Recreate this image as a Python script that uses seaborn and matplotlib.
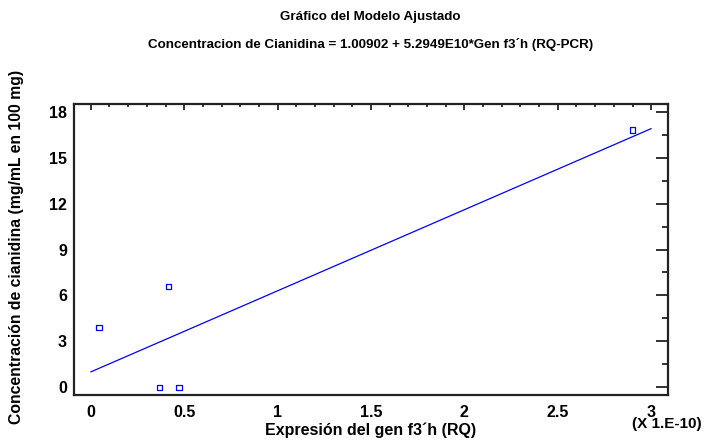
import numpy as np
import pandas as pd
import matplotlib
matplotlib.use('Agg')
import matplotlib.pyplot as plt
import seaborn as sns
from matplotlib.ticker import MultipleLocator, FuncFormatter

# observed values (x in RQ units, shown as X 1.E-10)
gen_f3h = [0.044e-10, 0.367e-10, 0.415e-10, 0.472e-10, 2.90e-10]
cianidina = [3.9, 0.0, 6.6, 0.0, 16.8]

# fitted model from the title
intercept = 1.00902
slope = 5.2949e10
fit_range = [0.0, 3.0e-10]

scale = 1e10
obs = pd.DataFrame({'x': np.array(gen_f3h) * scale, 'y': cianidina})
fit_x = np.array(fit_range)
fit = pd.DataFrame({'x': fit_x * scale, 'y': intercept + slope * fit_x})

sns.set_style('white')
plt.rcParams['font.family'] = ['Liberation Sans', 'DejaVu Sans']
plt.rcParams['font.weight'] = 'bold'
plt.rcParams['text.color'] = 'black'
plt.rcParams['xtick.labelcolor'] = 'black'
plt.rcParams['ytick.labelcolor'] = 'black'
plt.rcParams['axes.labelcolor'] = 'black'

fig = plt.figure(figsize=(7.07, 4.40), dpi=100)
ax = fig.add_axes([74 / 707, 45 / 440, 594 / 707, 291 / 440])

sns.lineplot(data=fit, x='x', y='y', ax=ax, color='#0000ff', linewidth=0.9)
sns.scatterplot(data=obs, x='x', y='y', ax=ax, marker='s', s=14,
                facecolor='none', edgecolor='#0000ff', linewidth=0.9)

ax.set_xlim(-0.09, 3.09)
ax.set_ylim(-0.5, 18.5)
ax.xaxis.set_major_locator(MultipleLocator(0.5))
ax.xaxis.set_minor_locator(MultipleLocator(0.1))
ax.yaxis.set_major_locator(MultipleLocator(3))
ax.yaxis.set_minor_locator(MultipleLocator(1.5))
ax.xaxis.set_major_formatter(FuncFormatter(lambda v, p: f'{v:g}'))
ax.tick_params(which='both', direction='in', top=True, right=True,
               color='#222222', labelcolor='black', labelsize=11.5, width=1.3)
ax.tick_params(axis='x', which='major', length=4, pad=7)
ax.tick_params(axis='x', which='minor', length=2.2)
ax.tick_params(axis='y', which='major', length=8.5, pad=5)
ax.tick_params(axis='y', which='minor', length=4.5)
for lab in ax.get_xticklabels() + ax.get_yticklabels():
    lab.set_fontweight('bold')
for sp in ax.spines.values():
    sp.set_color('#222222')
    sp.set_linewidth(1.6)

ax.set_xlabel('Expresión del gen f3´h (RQ)', fontsize=11.5, fontweight='bold',
              color='black')
ax.set_ylabel('Concentración de cianidina (mg/mL en 100 mg)', fontsize=11.3,
              fontweight='bold', color='black')
ax.xaxis.set_label_coords(0.5, -0.095)
ax.yaxis.set_label_coords(-0.085, 0.51)
ax.text(0.939, -0.1, '(X 1.E-10)', transform=ax.transAxes, ha='left', va='center',
        fontsize=11, fontweight='bold', color='black')

fig.text(0.524, 0.961, 'Gráfico del Modelo Ajustado', ha='center', va='center',
         fontsize=9.6, fontweight='bold', color='black')
fig.text(0.524, 0.898, 'Concentracion de Cianidina = 1.00902 + 5.2949E10*Gen f3´h (RQ-PCR)',
         ha='center', va='center', fontsize=9.6, fontweight='bold', color='black')

fig.savefig('out.png', dpi=100)
